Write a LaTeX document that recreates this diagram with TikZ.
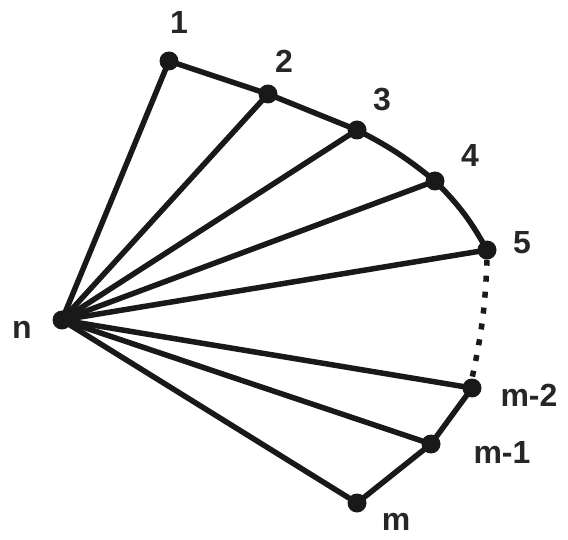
\documentclass[tikz,border=0pt]{standalone}
\usepackage{fontspec}
\setmainfont{Liberation Sans}
\begin{document}
\begin{tikzpicture}[x=1pt,y=-1pt,
  vtx/.style={circle,fill=black!90,inner sep=0pt,minimum size=19pt},
  lbl/.style={font=\bfseries\fontsize{32}{32}\selectfont,text=black!85,inner sep=0pt},
  edge/.style={line width=5.5pt,black!90},
  dotline/.style={line width=5.5pt,black!90,dash pattern=on 6pt off 10pt}]
\useasboundingbox (0,0) rectangle (568,540);
\node[vtx] (n) at (62,320) {};
\node[vtx] (v1) at (169,61) {};
\node[vtx] (v2) at (268,94) {};
\node[vtx] (v3) at (357,130) {};
\node[vtx] (v4) at (435,181) {};
\node[vtx] (v5) at (487,250) {};
\node[vtx] (vm2) at (472,388) {};
\node[vtx] (vm1) at (431,444) {};
\node[vtx] (vm) at (357,503) {};
\node[lbl] (l1) at (179,22) {1};
\node[lbl] (l2) at (284,61) {2};
\node[lbl] (l3) at (382,100) {3};
\node[lbl] (l4) at (470,155) {4};
\node[lbl] (l5) at (522,243) {5};
\node[lbl] (ln) at (22,330) {n};
\node[lbl] (lm2) at (529,395) {m-2};
\node[lbl] (lm1) at (502,452) {m-1};
\node[lbl] (lm) at (396,522) {m};
\foreach \v in {v1,v2,v3,v4,v5,vm2,vm1,vm}
  \draw[edge] (n.center) -- (\v.center);
\draw[edge] (v1.center) -- (v2.center) -- (v3.center);
\draw[edge] (v3.center) to[bend left=6] (v4.center);
\draw[edge] (v4.center) to[bend left=8] (v5.center);
\draw[dotline] (v5.south) to[bend left=5] (vm2.north);
\draw[edge] (vm2.center) -- (vm1.center) -- (vm.center);
\end{tikzpicture}
\end{document}
